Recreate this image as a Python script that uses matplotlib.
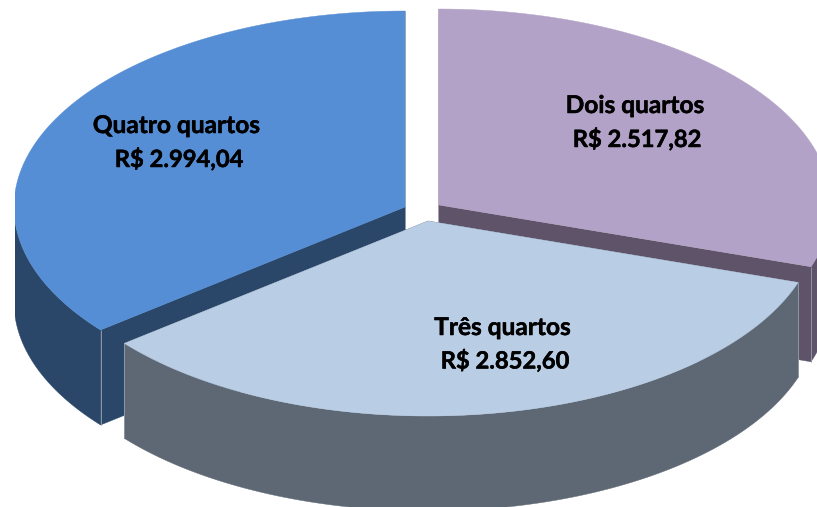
import numpy as np
import matplotlib
matplotlib.use("Agg")
import matplotlib.pyplot as plt
import matplotlib.patheffects as pe
from matplotlib.patches import Polygon, Rectangle

categories = ["Dois quartos", "Três quartos", "Quatro quartos"]
values = [2517.82, 2852.60, 2994.04]
value_labels = ["R$ 2.517,82", "R$ 2.852,60", "R$ 2.994,04"]

top_colors = ["#B3A2C7", "#B9CDE5", "#558ED5"]
wall_colors = ["#5E5369", "#5E6875", "#2A4769"]
apexes = [(439, 205), (428, 221), (405, 207)]
radii = [(392, 196), (390, 195), (391, 196)]
name_pos = [(635, 113), (502.5, 335), (176.5, 133)]
value_pos = [(637, 147), (505, 368.5), (179, 167)]
DEPTH = 95
W, H = 817, 507

fig = plt.figure(figsize=(W / 100, H / 100), dpi=100, facecolor="white")
ax = fig.add_axes([0, 0, 1, 1])
ax.set_xlim(0, W)
ax.set_ylim(H, 0)
ax.axis("off")
clip = Rectangle((15, 0), W - 15, H, transform=ax.transData)


def arc(apex, r, t0, t1):
    t = np.linspace(t0, t1, 240)
    return np.column_stack([apex[0] + r[0] * np.sin(t), apex[1] - r[1] * np.cos(t)])


def fill(points, color, z):
    p = Polygon(points, closed=True, facecolor=color, edgecolor=color,
                linewidth=0.3, zorder=z)
    ax.add_patch(p)
    p.set_clip_path(clip)


fractions = np.array(values) / np.sum(values)
edges = np.concatenate([[0], np.cumsum(fractions)]) * 2 * np.pi
down = np.array([0, DEPTH])
layer = {0: 1, 2: 2, 1: 3}

for i in [0, 2, 1]:
    z = layer[i] * 10
    apex = np.array(apexes[i], dtype=float)
    r = radii[i]
    t0, t1 = edges[i], edges[i + 1]
    rim = arc(apex, r, t0, t1)
    # outer wall: only the part facing the viewer
    f0, f1 = max(t0, np.pi / 2), min(t1, 3 * np.pi / 2)
    front = arc(apex, r, f0, f1)
    fill(np.vstack([front, (front + down)[::-1]]), wall_colors[i], z)
    # radial walls
    for end in (rim[0], rim[-1]):
        fill(np.array([apex, end, end + down, apex + down]), wall_colors[i], z + 1)
    # top face
    fill(np.vstack([apex, rim]), top_colors[i], z + 2)
    # lighter seams at the front corners
    for end in (rim[0], rim[-1]):
        if end[1] > apex[1]:
            ax.plot([end[0], end[0]], [end[1], end[1] + DEPTH], color="#8E97A6",
                    lw=0.7, zorder=z + 1.5, solid_capstyle="butt")

stroke = [pe.withStroke(linewidth=0.35, foreground="black")]
for i in range(3):
    ax.text(*name_pos[i], categories[i], ha="center", va="baseline", family="Lato",
            weight="bold", fontsize=17.6, color="black", zorder=50, path_effects=stroke)
    ax.text(*value_pos[i], value_labels[i], ha="center", va="baseline", family="Lato",
            weight="bold", fontsize=17.1, color="black", zorder=50, path_effects=stroke)

fig.savefig("out.png", dpi=100, facecolor="white")
